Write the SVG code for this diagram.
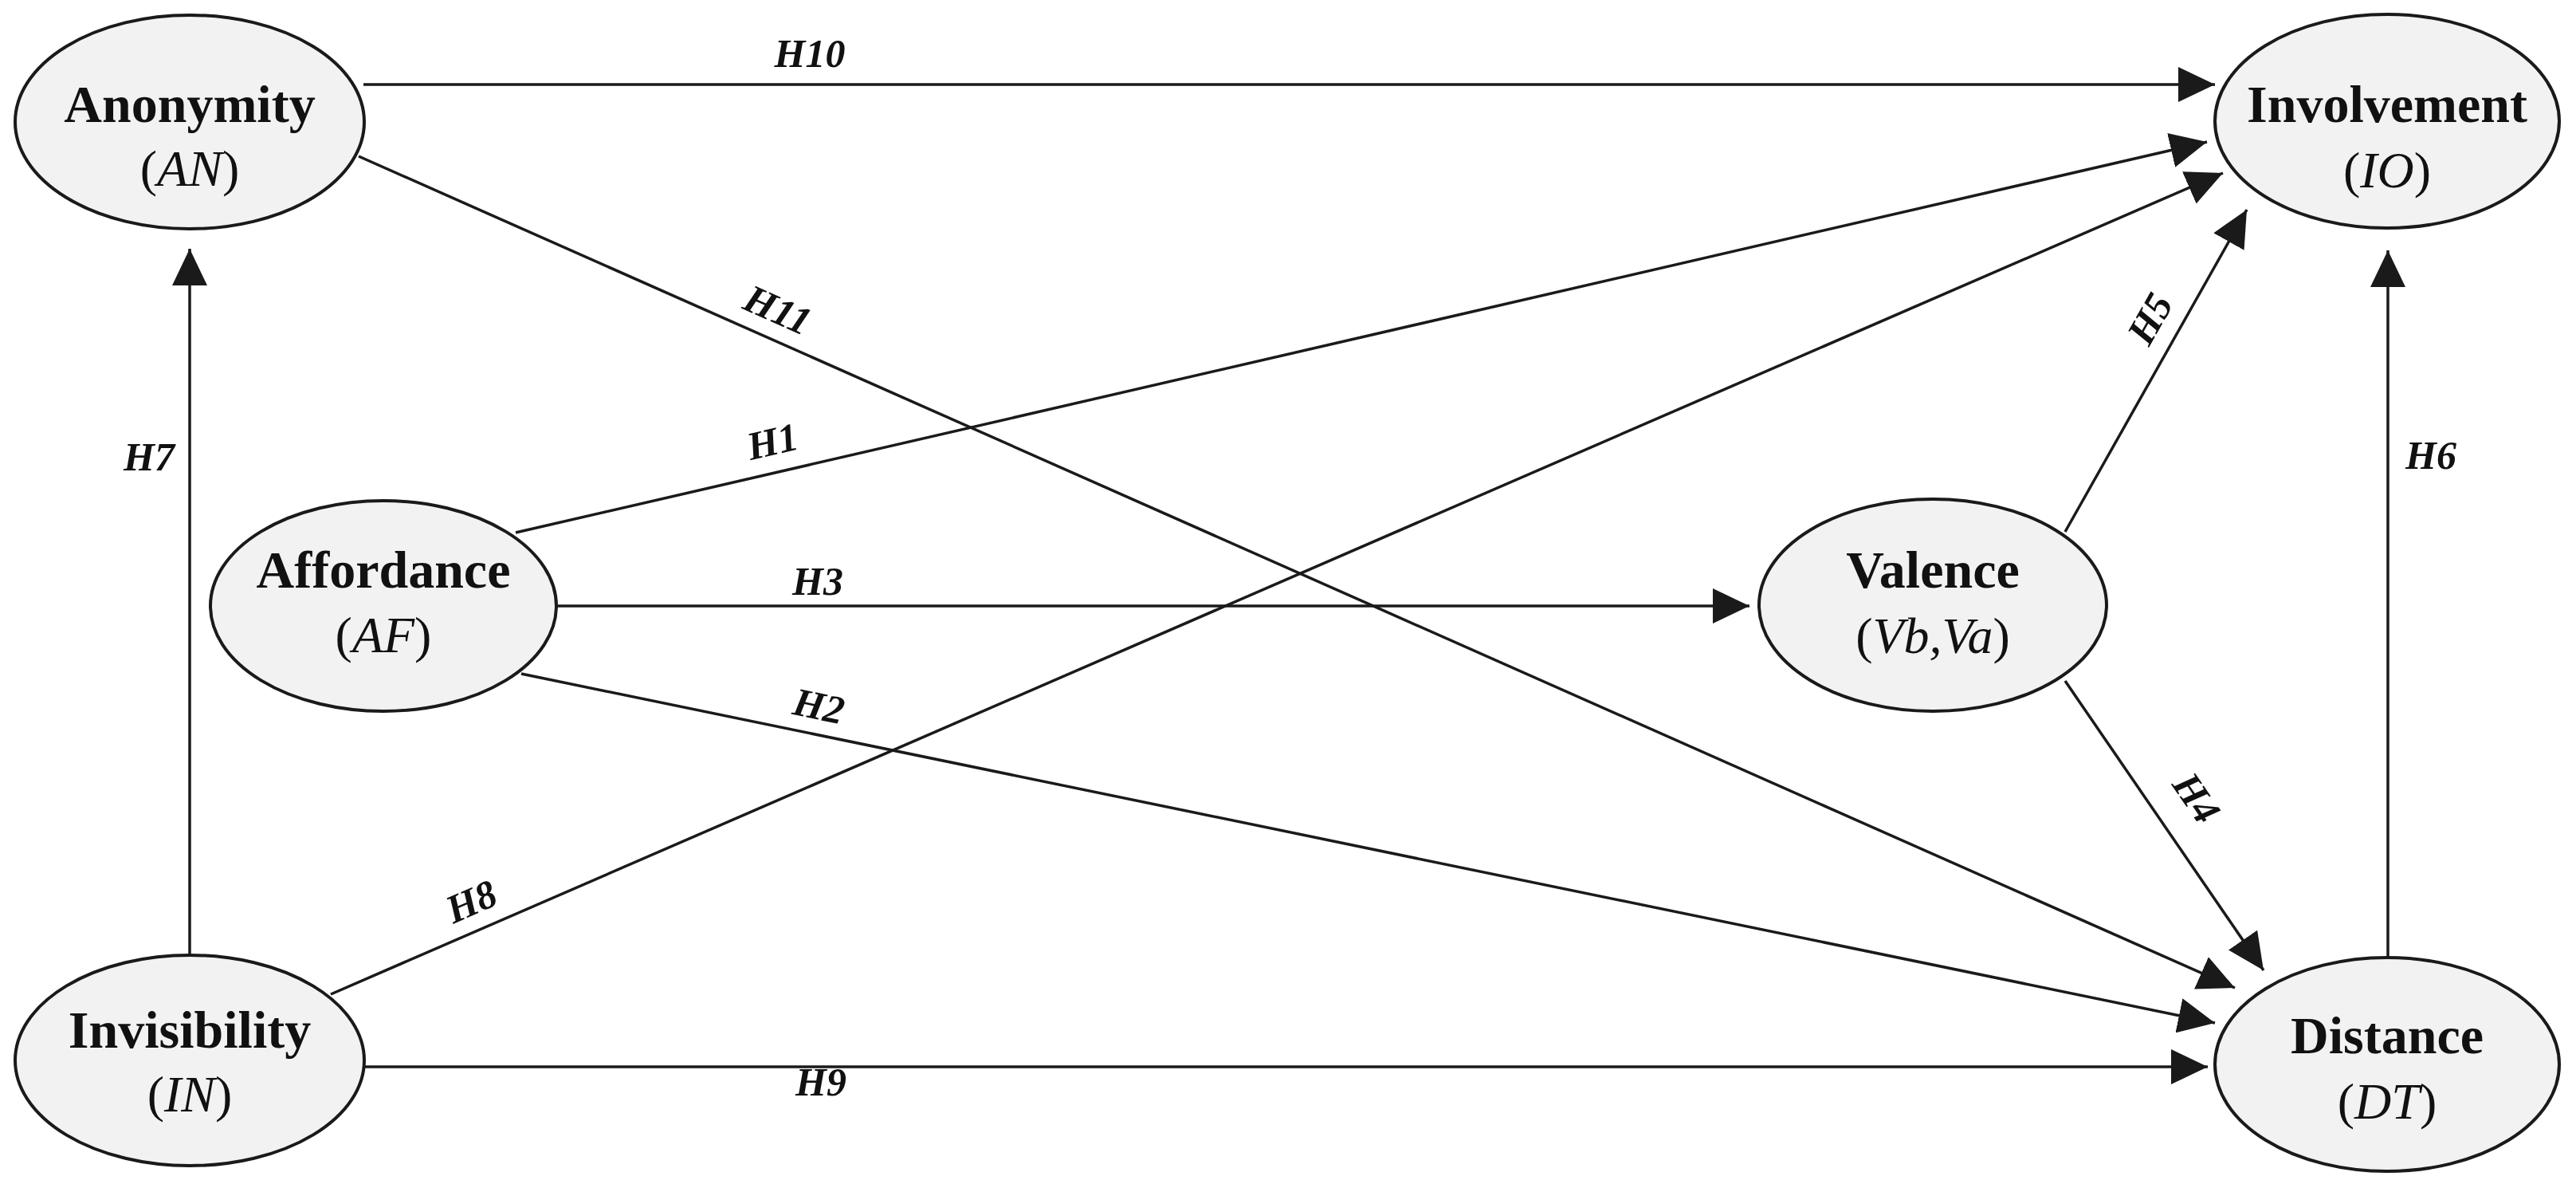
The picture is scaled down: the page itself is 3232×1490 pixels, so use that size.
<svg xmlns="http://www.w3.org/2000/svg" width="3232" height="1490" viewBox="0 0 3232 1490">
<style>
.n{fill:#f2f2f2;stroke:#1a1a1a;stroke-width:4}
.t{font-family:"Liberation Serif",serif;font-size:66px;font-weight:bold;text-anchor:middle;fill:#111}
.s{font-family:"Liberation Serif",serif;font-size:64px;text-anchor:middle;fill:#111}
.s tspan{font-style:italic}
.l{font-family:"Liberation Serif",serif;font-size:50px;font-weight:bold;font-style:italic;text-anchor:middle;fill:#111}
.e{stroke:#1a1a1a;stroke-width:3.5;fill:none;marker-end:url(#a)}
</style>
<defs>
<marker id="a" markerUnits="userSpaceOnUse" markerWidth="46" markerHeight="44" refX="46" refY="22" orient="auto">
<path d="M0,0 L46,22 L0,44 z" fill="#1a1a1a"/>
</marker>
</defs>
<g id="connectors">
<line class="e" x1="456" y1="106" x2="2779" y2="106"/>
<line class="e" x1="450" y1="196" x2="2804" y2="1239"/>
<line class="e" x1="647" y1="668" x2="2769" y2="178"/>
<line class="e" x1="698" y1="760" x2="2195" y2="760"/>
<line class="e" x1="654" y1="845" x2="2779" y2="1283"/>
<line class="e" x1="415" y1="1247" x2="2789" y2="217"/>
<line class="e" x1="456" y1="1338" x2="2770" y2="1338"/>
<line class="e" x1="238" y1="1198" x2="238" y2="312"/>
<line class="e" x1="2591" y1="667" x2="2819" y2="263"/>
<line class="e" x1="2591" y1="854" x2="2840" y2="1217"/>
<line class="e" x1="2996" y1="1201" x2="2996" y2="314"/>
<text class="l" x="1016" y="84">H10</text>
<text class="l" transform="translate(969,404) rotate(24)">H11</text>
<text class="l" transform="translate(973,570) rotate(-13)">H1</text>
<text class="l" x="1026" y="746">H3</text>
<text class="l" transform="translate(1024,902) rotate(11.6)">H2</text>
<text class="l" transform="translate(598,1146) rotate(-23.5)">H8</text>
<text class="l" x="1030" y="1374">H9</text>
<text class="l" x="187" y="590">H7</text>
<text class="l" transform="translate(2712,408) rotate(-60.6)">H5</text>
<text class="l" transform="translate(2742,1010) rotate(55.6)">H4</text>
<text class="l" x="3050" y="588">H6</text>
</g>
<g id="anonymity"><ellipse class="n" cx="238" cy="153" rx="219" ry="134"/><text class="t" x="238" y="153">Anonymity</text><text class="s" x="238" y="233">(<tspan>AN</tspan>)</text></g>
<g id="involvement"><ellipse class="n" cx="2995" cy="152" rx="216" ry="134"/><text class="t" x="2995" y="153">Involvement</text><text class="s" x="2995" y="235">(<tspan>IO</tspan>)</text></g>
<g id="affordance"><ellipse class="n" cx="481" cy="760" rx="217" ry="132"/><text class="t" x="481" y="737">Affordance</text><text class="s" x="481" y="818">(<tspan>AF</tspan>)</text></g>
<g id="valence"><ellipse class="n" cx="2425" cy="759" rx="218" ry="133"/><text class="t" x="2425" y="737">Valence</text><text class="s" x="2425" y="819">(<tspan>Vb,Va</tspan>)</text></g>
<g id="distance"><ellipse class="n" cx="2995" cy="1335" rx="216" ry="134"/><text class="t" x="2995" y="1321">Distance</text><text class="s" x="2995" y="1403">(<tspan>DT</tspan>)</text></g>
<g id="invisibility"><ellipse class="n" cx="238" cy="1330" rx="219" ry="132"/><text class="t" x="238" y="1314">Invisibility</text><text class="s" x="238" y="1394">(<tspan>IN</tspan>)</text></g>
</svg>
